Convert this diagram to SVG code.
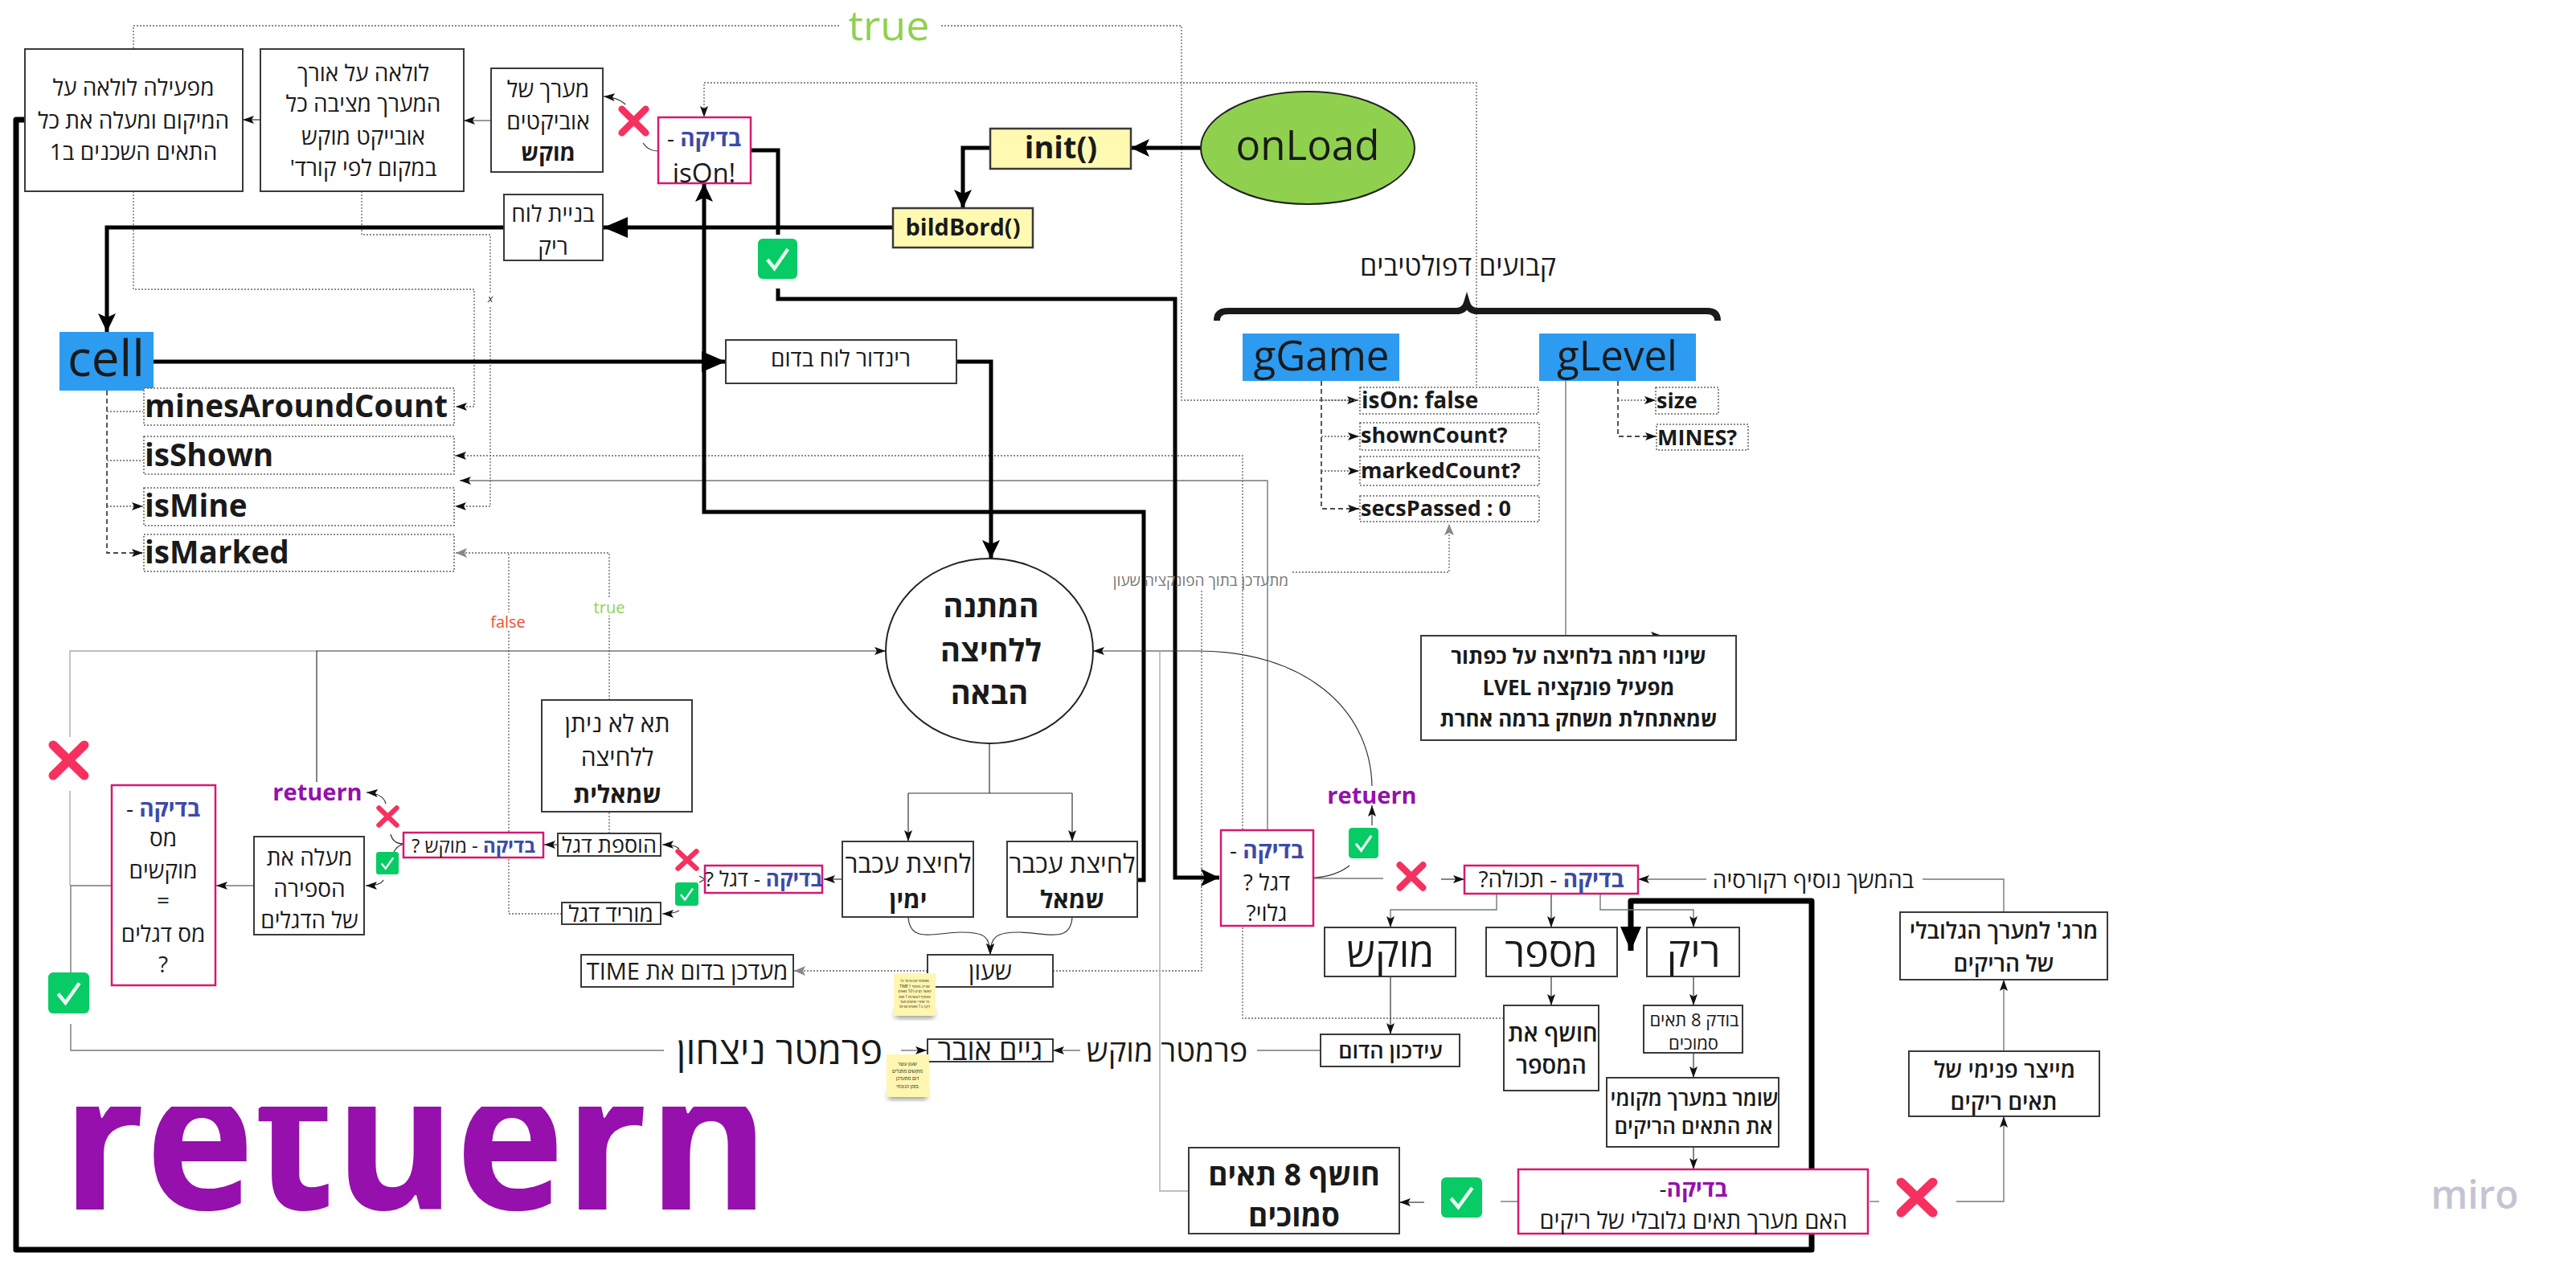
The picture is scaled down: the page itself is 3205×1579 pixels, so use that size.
<svg xmlns="http://www.w3.org/2000/svg" xmlns:xlink="http://www.w3.org/1999/xlink" width="3205" height="1579" viewBox="0 0 3205 1579">
<style>
text{font-family:"Open Sans","Noto Sans","DejaVu Sans",sans-serif;fill:#1a1a1a;text-anchor:middle;dominant-baseline:central}
.he{direction:rtl}
.b{font-weight:700}
.s{font-weight:600}
.l{text-anchor:start}
.blue{fill:#3c4ba6;font-weight:700}
.pur{fill:#9510ac;font-weight:700}
.box{fill:#fff;stroke:#3a3a3a;stroke-width:2}
.chk{fill:#fff;stroke:#d5196f;stroke-width:2.5}
.yel{fill:#fff9b1;stroke:#3a3a3a;stroke-width:2.5}
.dot{fill:#fff;stroke:#666;stroke-width:1.5;stroke-dasharray:2 2}
.bl{fill:#2d9bf0}
.c{fill:none;stroke:#333;stroke-width:1.2}
.g{fill:none;stroke:#777;stroke-width:1.4}
.lg{fill:none;stroke:#aaa;stroke-width:1.4}
.d{fill:none;stroke:#666;stroke-width:1.3;stroke-dasharray:2 2}
.dk{fill:none;stroke:#111;stroke-width:1.4;stroke-dasharray:6 4}
.t4{fill:none;stroke:#000;stroke-width:5}
.t7{fill:none;stroke:#000;stroke-width:7;stroke-linejoin:round}
.sticky{fill:#fff6b0}
</style>
<defs>
<marker id="a" markerUnits="userSpaceOnUse" markerWidth="15" markerHeight="12" refX="14" refY="6" orient="auto"><path d="M0,1 L14,6 L0,11 L3,6Z" fill="#111"/></marker>
<marker id="ag" markerUnits="userSpaceOnUse" markerWidth="15" markerHeight="14" refX="14" refY="7" orient="auto"><path d="M0,1 L14,7 L0,13 L3,7Z" fill="#888"/></marker>
<marker id="A" markerUnits="userSpaceOnUse" markerWidth="24" markerHeight="24" refX="23" refY="12" orient="auto"><path d="M0,1 L23,12 L0,23 L5,12Z" fill="#000"/></marker>
<marker id="AA" markerUnits="userSpaceOnUse" markerWidth="31" markerHeight="28" refX="30" refY="14" orient="auto"><path d="M0,1 L30,14 L0,27 Z" fill="#000"/></marker>
<symbol id="ok" viewBox="0 0 50 50" preserveAspectRatio="none"><rect width="50" height="50" rx="6" fill="#07cb64"/><path d="M12,26 L21,37 L38,13" fill="none" stroke="#e8fbf0" stroke-width="4.5"/></symbol>
<symbol id="no" viewBox="0 0 50 50" preserveAspectRatio="none"><path d="M6,6 L44,44 M44,6 L6,44" fill="none" stroke="#f6305f" stroke-width="11" stroke-linecap="round"/></symbol>
<filter id="sh" x="-20%" y="-20%" width="140%" height="140%"><feGaussianBlur stdDeviation="3"/></filter>
<clipPath id="clipret"><rect x="60" y="1377" width="920" height="160"/></clipPath>
</defs>

<g id="connectors">
<path class="d" d="M1044,32 H166 V61"/>
<path class="d" d="M1171,32 H1470 V498 H1690" marker-end="url(#a)"/>
<path class="d" d="M1837,480 V103 H876 V146" marker-end="url(#a)"/>
<path class="d" d="M450,238 V292 H610 V630 H566" marker-end="url(#a)"/>
<path class="d" d="M166,238 V360 H590 V506 H567" marker-end="url(#a)"/>
<path class="d" d="M1871,1267 H1546 V567 H566" marker-end="url(#a)"/>
<path class="g" d="M1577,1033 V598 H572" marker-end="url(#a)"/>
<path class="d" d="M758,871 V688 H567" stroke-width="2" marker-end="url(#ag)"/>
<path class="d" d="M758,1037 V1010"/>
<path class="d" d="M699,1137 H633 V688"/>
<path class="d" d="M1310,1208 H1495 V735"/>
<path class="d" d="M1154,1208 H988" marker-end="url(#ag)"/>
<path class="d" d="M1608,712 H1803 V652" marker-end="url(#ag)"/>
<path class="dk" d="M133,486 V688 H178" marker-end="url(#a)"/>
<path class="d" d="M133,512 H178"/>
<path class="d" d="M133,573 H178"/>
<path class="d" d="M133,630 H178" marker-end="url(#a)"/>
<path class="dk" d="M1644,474 V633 H1691" marker-end="url(#a)"/>
<path class="d" d="M1644,498 H1690"/>
<path class="d" d="M1644,543 H1691" marker-end="url(#a)"/>
<path class="d" d="M1644,586 H1691" marker-end="url(#a)"/>
<path class="dk" d="M2013,474 V543 H2061" marker-end="url(#a)"/>
<path class="d" d="M2013,498 H2060" marker-end="url(#a)"/>
<path class="g" d="M1948,474 V791 H2068" marker-end="url(#a)"/>
<path class="c" d="M611,150 H577" marker-end="url(#a)"/>
<path class="c" d="M324,149 H302" marker-end="url(#a)"/>
<path class="c" d="M778,130 C772,124 764,121 751,120" marker-end="url(#a)"/>
<path class="c" d="M800,178 C804,184 810,188 819,188"/>
<path class="t4" d="M934,187 H968 V292"/>
<path class="t4" d="M968,359 V372 H1462 V1092 H1517" marker-end="url(#A)"/>
<path class="t4" d="M1494,184 H1407" marker-end="url(#A)"/>
<path class="t4" d="M1232,184 H1198 V259" marker-end="url(#A)"/>
<path class="t4" d="M1111,283 H751" marker-end="url(#AA)"/>
<path class="t4" d="M627,283 H133 V413" marker-end="url(#A)"/>
<path class="t4" d="M191,450 H903" marker-end="url(#AA)"/>
<path class="t4" d="M1190,450 H1233 V695" marker-end="url(#A)"/>
<path class="t4" d="M1416,1095 H1423 V637 H876 V228" marker-end="url(#A)"/>
<path class="t7" d="M31,149 H20 V1555 H2254 V1121 H2029 V1183" marker-end="url(#AA)"/>
<path class="lg" d="M87,917 V810 H394"/>
<path class="lg" d="M87,984 V1102"/>
<path class="g" d="M139,1102 H88 V1210"/>
<path class="c" d="M394,973 V810 H1102" marker-end="url(#a)"/>
<path class="c" d="M1707,978 C1705,880 1620,810 1491,810 H1360" marker-end="url(#a)"/>
<path class="lg" d="M1479,1482 H1443 V810"/>
<path class="c" d="M1231,925 V987"/>
<path class="c" d="M1130,987 H1334"/>
<path class="c" d="M1130,987 V1047" marker-end="url(#a)"/>
<path class="c" d="M1334,987 V1047" marker-end="url(#a)"/>
<path class="c" d="M1130,1141 C1132,1175 1165,1160 1195,1160 C1225,1160 1232,1165 1232,1188" marker-end="url(#a)"/>
<path class="c" d="M1334,1141 C1332,1175 1300,1160 1268,1160 C1240,1160 1232,1165 1232,1188" marker-end="url(#a)"/>
<path class="g" d="M88,1274 V1307 H826"/>
<path class="g" d="M1121,1307 H1153" marker-end="url(#a)"/>
<path class="g" d="M1344,1307 H1310" marker-end="url(#a)"/>
<path class="g" d="M1643,1307 H1564"/>
<path class="g" d="M316,1102 H269" marker-end="url(#a)"/>
<path class="c" d="M480,1000 C478,992 470,987 456,986" marker-end="url(#a)"/>
<path class="c" d="M486,1038 C488,1046 494,1050 502,1050 C496,1052 492,1056 490,1060"/>
<path class="c" d="M477,1095 C475,1099 468,1102 455,1102" marker-end="url(#a)"/>
<path class="c" d="M694,1051 H677" marker-end="url(#a)"/>
<path class="c" d="M1047,1094 H1025" marker-end="url(#a)"/>
<path class="c" d="M870,1090 L877,1094 L870,1098"/>
<path class="c" d="M845,1056 C840,1052 835,1051 824,1051" marker-end="url(#a)"/>
<path class="c" d="M845,1133 C840,1136 835,1137 824,1137" marker-end="url(#a)"/>
<path class="c" d="M1634,1092 C1650,1092 1668,1086 1679,1077"/>
<path class="g" d="M1634,1093 H1721"/>
<path class="c" d="M1707,1027 V1002" marker-end="url(#a)"/>
<path class="c" d="M1793,1094 H1822" marker-end="url(#a)"/>
<path class="g" d="M2493,1135 V1094 H2392"/>
<path class="c" d="M2123,1094 H2038" marker-end="url(#a)"/>
<path class="g" d="M1862,1112 V1132 H1730 V1154" marker-end="url(#a)"/>
<path class="c" d="M1930,1112 V1154" marker-end="url(#a)"/>
<path class="g" d="M1991,1112 V1132 H2107 V1154" marker-end="url(#a)"/>
<path class="c" d="M1730,1215 V1287" marker-end="url(#a)"/>
<path class="c" d="M1930,1215 V1251" marker-end="url(#a)"/>
<path class="c" d="M2107,1215 V1251" marker-end="url(#a)"/>
<path class="c" d="M2107,1310 V1341" marker-end="url(#a)"/>
<path class="c" d="M2107,1427 V1455" marker-end="url(#a)"/>
<path class="g" d="M1889,1495 H1867"/>
<path class="c" d="M1772,1496 H1741" marker-end="url(#a)"/>
<path class="g" d="M2326,1495 H2338"/>
<path class="g" d="M2434,1495 H2493 V1389" marker-end="url(#a)"/>
<path class="g" d="M2493,1308 V1219" marker-end="url(#a)"/>
<path d="M1514,399 Q1514,387 1528,387 H1812 Q1822,387 1825,377 Q1828,387 1838,387 H2124 Q2137,387 2137,399" fill="none" stroke="#1a1a1a" stroke-width="8"/>
</g>

<g id="n-true"><text x="1106" y="29" font-size="52" style="fill:#8fd14f">true</text></g>
<g id="n-loop-cells"><rect class="box" x="31" y="61" width="271" height="177"/>
<text class="he" x="166" y="108" font-size="28">מפעילה לולאה על</text><text class="he" x="166" y="149" font-size="28">המיקום ומעלה את כל</text><text class="he" x="166" y="188" font-size="28">התאים השכנים ב1</text></g>
<g id="n-loop-array"><rect class="box" x="324" y="61" width="253" height="177"/>
<text class="he" x="452" y="90" font-size="28">לולאה על אורך</text><text class="he" x="452" y="128" font-size="28">המערך מציבה כל</text><text class="he" x="452" y="169" font-size="28">אובייקט מוקש</text><text class="he" x="452" y="208" font-size="28">במקום לפי קורד'</text></g>
<g id="n-mines-array"><rect class="box" x="611" y="85" width="139" height="129"/>
<text class="he" x="682" y="110" font-size="28">מערך של</text><text class="he" x="682" y="150" font-size="28">אוביקטים</text><text class="he b" x="682" y="189" font-size="28">מוקש</text></g>
<g id="n-x1"><use href="#no" x="769" y="131" width="39" height="39"/></g>
<g id="n-ison"><rect class="chk" x="819" y="146" width="115" height="82"/>
<text class="he" x="876" y="171" font-size="28"><tspan class="blue">בדיקה</tspan> -</text><text x="876" y="214" font-size="33">isOn!</text></g>
<g id="n-ok1"><use href="#ok" x="943" y="297" width="49" height="50"/></g>
<g id="n-init"><rect class="yel" x="1232" y="160" width="175" height="50"/><text class="b" x="1320" y="182" font-size="38">init()</text></g>
<g id="n-onload"><ellipse cx="1627" cy="184" rx="133" ry="70" fill="#8fd14f" stroke="#222" stroke-width="2"/><text x="1627" y="179" font-size="51">onLoad</text></g>
<g id="n-bild"><rect class="yel" x="1111" y="259" width="174" height="49"/><text class="b" x="1198" y="281" font-size="29">bildBord()</text></g>
<g id="n-empty-board"><rect class="box" x="627" y="242" width="123" height="82"/><text class="he" x="688" y="265" font-size="28">בניית לוח</text><text class="he" x="688" y="306" font-size="28">ריק</text></g>
<g id="n-cell"><rect class="bl" x="74" y="413" width="117" height="73"/><text x="132" y="444" font-size="62">cell</text></g>
<g id="n-render"><rect class="box" x="903" y="423" width="287" height="54"/><text class="he" x="1046" y="445" font-size="28">רינדור לוח בדום</text></g>
<g id="n-mac"><rect class="dot" x="179" y="483" width="386" height="46"/><text class="b l" x="180" y="504" font-size="38.7">minesAroundCount</text></g>
<g id="n-shown"><rect class="dot" x="179" y="543" width="386" height="47"/><text class="b l" x="180" y="565" font-size="38.7">isShown</text></g>
<g id="n-mine"><rect class="dot" x="179" y="607" width="386" height="47"/><text class="b l" x="180" y="628" font-size="38.7">isMine</text></g>
<g id="n-marked"><rect class="dot" x="179" y="665" width="386" height="46"/><text class="b l" x="180" y="686" font-size="38.7">isMarked</text></g>
<g id="n-wait"><ellipse cx="1231" cy="810" rx="129" ry="115" fill="#fff" stroke="#222" stroke-width="2"/>
<text class="he b" x="1233" y="753" font-size="38">המתנה</text><text class="he b" x="1233" y="808" font-size="38">ללחיצה</text><text class="he b" x="1231" y="861" font-size="38">הבאה</text></g>
<g id="n-brace-title"><text class="he" x="1814" y="330" font-size="34">קבועים דפולטיבים</text></g>
<g id="n-ggame"><rect class="bl" x="1546" y="415" width="195" height="59"/><text x="1644" y="441" font-size="51">gGame</text></g>
<g id="n-glevel"><rect class="bl" x="1915" y="415" width="195" height="59"/><text x="2012" y="441" font-size="51">gLevel</text></g>
<g id="n-ison-f"><rect class="dot" x="1692" y="482" width="222" height="33"/><text class="b l" x="1694" y="497" font-size="28">isOn: false</text></g>
<g id="n-sc"><rect class="dot" x="1692" y="526" width="223" height="34"/><text class="b l" x="1693" y="540" font-size="27">shownCount?</text></g>
<g id="n-mc"><rect class="dot" x="1692" y="568" width="223" height="36"/><text class="b l" x="1693" y="584" font-size="27">markedCount?</text></g>
<g id="n-sp"><rect class="dot" x="1692" y="617" width="223" height="32"/><text class="b l" x="1693" y="631" font-size="27">secsPassed : 0</text></g>
<g id="n-size"><rect class="dot" x="2060" y="482" width="78" height="33"/><text class="b l" x="2061" y="497" font-size="27">size</text></g>
<g id="n-mines"><rect class="dot" x="2061" y="528" width="114" height="32"/><text class="b l" x="2062" y="543" font-size="27">MINES?</text></g>
<g id="n-level"><rect class="box" x="1768" y="791" width="392" height="130"/>
<text class="he b" x="1964" y="816" font-size="26">שינוי רמה בלחיצה על כפתור</text><text class="he b" x="1964" y="855" font-size="26">מפעיל פונקציה LVEL</text><text class="he b" x="1964" y="894" font-size="26">שמאתחלת משחק ברמה אחרת</text></g>
<g id="n-time-note"><text class="he" x="1494" y="722" font-size="19" style="fill:#777">מתעדכן בתוך הפונקציה שעון</text></g>
<g id="n-true2"><rect x="736" y="744" width="44" height="22" fill="#fff"/><text x="758" y="755" font-size="20" style="fill:#8fd14f">true</text></g>
<g id="n-false"><rect x="608" y="762" width="48" height="22" fill="#fff"/><text x="632" y="773" font-size="20" style="fill:#f24d30">false</text></g>
<g id="n-x-mark"><rect x="604" y="364" width="12" height="16" fill="#fff"/><text x="610" y="371" font-size="13" font-style="italic">x</text></g>
<g id="n-x2"><use href="#no" x="60" y="921" width="51" height="50"/></g>
<g id="n-count-check"><rect class="chk" x="139" y="977" width="129" height="249"/>
<text class="he" x="203" y="1005" font-size="28"><tspan class="blue">בדיקה</tspan> -</text><text class="he" x="203" y="1042" font-size="28">מס</text><text class="he" x="203" y="1082" font-size="28">מוקשים</text><text x="203" y="1119" font-size="28">=</text><text class="he" x="203" y="1161" font-size="28">מס דגלים</text><text x="203" y="1199" font-size="28">?</text></g>
<g id="n-ok2"><use href="#ok" x="60" y="1210" width="51" height="51"/></g>
<g id="n-ret1"><text class="pur" x="395" y="984" font-size="29">retuern</text></g>
<g id="n-x3"><use href="#no" x="468" y="1002" width="29" height="28"/></g>
<g id="n-ok3"><use href="#ok" x="468" y="1060" width="28" height="28"/></g>
<g id="n-raise"><rect class="box" x="316" y="1041" width="137" height="122"/>
<text class="he" x="385" y="1066" font-size="28">מעלה את</text><text class="he" x="385" y="1105" font-size="28">הספירה</text><text class="he" x="385" y="1144" font-size="28">של הדגלים</text></g>
<g id="n-mine-check"><rect class="chk" x="502" y="1036" width="174" height="31"/><text class="he" x="589" y="1051" font-size="24"><tspan class="blue">בדיקה</tspan> - מוקש ?</text></g>
<g id="n-addflag"><rect class="box" x="694" y="1037" width="128" height="28"/><text class="he" x="758" y="1050" font-size="27">הוספת דגל</text></g>
<g id="n-remflag"><rect class="box" x="699" y="1123" width="123" height="27"/><text class="he" x="760" y="1136" font-size="28">מוריד דגל</text></g>
<g id="n-cant"><rect class="box" x="674" y="871" width="187" height="139"/>
<text class="he" x="768" y="899" font-size="30">תא לא ניתן</text><text class="he" x="768" y="941" font-size="30">ללחיצה</text><text class="he b" x="768" y="987" font-size="30">שמאלית</text></g>
<g id="n-flag-check"><rect class="chk" x="877" y="1077" width="146" height="34"/><text class="he" x="950" y="1093" font-size="26"><tspan class="blue">בדיקה</tspan> - דגל ?</text></g>
<g id="n-x4"><use href="#no" x="840" y="1056" width="30" height="28"/></g>
<g id="n-ok4"><use href="#ok" x="840" y="1098" width="29" height="29"/></g>
<g id="n-right"><rect class="box" x="1048" y="1047" width="163" height="94"/><text class="he" x="1130" y="1073" font-size="32">לחיצת עכבר</text><text class="he b" x="1130" y="1118" font-size="30">ימין</text></g>
<g id="n-left"><rect class="box" x="1253" y="1047" width="162" height="94"/><text class="he" x="1334" y="1073" font-size="32">לחיצת עכבר</text><text class="he b" x="1334" y="1118" font-size="30">שמאל</text></g>
<g id="n-clock"><rect class="box" x="1154" y="1188" width="156" height="40"/><text class="he" x="1232" y="1207" font-size="30">שעון</text></g>
<g id="n-time"><rect class="box" x="723" y="1188" width="264" height="40"/><text class="he" x="855" y="1207" font-size="29">מעדכן בדום את TIME</text></g>
<g id="n-sticky1"><rect x="1114" y="1256" width="48" height="11" fill="#555" opacity=".6" filter="url(#sh)"/><rect class="sticky" x="1112" y="1211" width="52" height="53"/>
<g font-size="4.6"><text class="he" x="1138" y="1220">מאתחל אינטרוול כל</text><text class="he" x="1138" y="1227">שנייה מוסיף TIME 1</text><text class="he" x="1138" y="1233">כאשר מגיע ל10 מאפס</text><text class="he" x="1138" y="1240">ומוסיף לעשרות 1 ואת</text><text class="he" x="1138" y="1246">כל אחרי שישים מעל</text><text class="he" x="1138" y="1252">דקה ב1 מאפס שניות</text></g></g>
<g id="n-ret-big" clip-path="url(#clipret)"><text class="pur" x="517" y="1505" font-size="252" style="dominant-baseline:auto" textLength="880" lengthAdjust="spacingAndGlyphs">retuern</text></g>
<g id="n-win"><text class="he" x="970" y="1306" font-size="47">פרמטר ניצחון</text></g>
<g id="n-over"><rect class="box" x="1154" y="1293" width="156" height="28"/><text class="he" x="1232" y="1305" font-size="36">גיים אובר</text></g>
<g id="n-sticky2"><rect x="1105" y="1357" width="48" height="11" fill="#555" opacity=".6" filter="url(#sh)"/><rect class="sticky" x="1103" y="1312" width="53" height="53"/>
<g font-size="6"><text class="he" x="1129" y="1324">שעון עוצר</text><text class="he" x="1129" y="1333">מוקשים מתגלים</text><text class="he" x="1129" y="1342">דום מתעדכן</text><text class="he" x="1129" y="1352">בזמן הנוכחי</text></g></g>
<g id="n-mine-param"><text class="he" x="1452" y="1306" font-size="38">פרמטר מוקש</text></g>
<g id="n-update"><rect class="box" x="1643" y="1287" width="173" height="40"/><text class="he s" x="1730" y="1306" font-size="27">עידכון הדום</text></g>
<g id="n-8"><rect class="box" x="1479" y="1428" width="262" height="107"/><text class="he b" x="1610" y="1460" font-size="37">חושף 8 תאים</text><text class="he b" x="1610" y="1511" font-size="37">סמוכים</text></g>
<g id="n-ok5"><use href="#ok" x="1793" y="1465" width="51" height="50"/></g>
<g id="n-flag-shown"><rect class="chk" x="1519" y="1033" width="115" height="119"/>
<text class="he" x="1576" y="1057" font-size="28"><tspan class="blue">בדיקה</tspan> -</text><text class="he" x="1576" y="1097" font-size="28">דגל ?</text><text class="he" x="1576" y="1135" font-size="28">גלוי?</text></g>
<g id="n-ok6"><use href="#ok" x="1678" y="1030" width="37" height="38"/></g>
<g id="n-ret2"><text class="pur" x="1707" y="988" font-size="29">retuern</text></g>
<g id="n-x5"><use href="#no" x="1737" y="1072" width="38" height="37"/></g>
<g id="n-content"><rect class="chk" x="1822" y="1077" width="216" height="35"/><text class="he" x="1930" y="1093" font-size="28"><tspan class="blue">בדיקה</tspan> - תכולה?</text></g>
<g id="n-recur"><text class="he" x="2256" y="1094" font-size="28">בהמשך נוסיף רקורסיה</text></g>
<g id="n-mine-box"><rect class="box" x="1648" y="1154" width="163" height="61"/><text class="he" x="1730" y="1184" font-size="50">מוקש</text></g>
<g id="n-num-box"><rect class="box" x="1849" y="1154" width="163" height="61"/><text class="he" x="1930" y="1184" font-size="50">מספר</text></g>
<g id="n-empty-box"><rect class="box" x="2049" y="1154" width="115" height="61"/><text class="he" x="2107" y="1184" font-size="50">ריק</text></g>
<g id="n-reveal-num"><rect class="box" x="1871" y="1251" width="118" height="106"/><text class="he s" x="1932" y="1284" font-size="29">חושף את</text><text class="he s" x="1930" y="1324" font-size="29">המספר</text></g>
<g id="n-check8"><rect class="box" x="2045" y="1251" width="123" height="59"/><text class="he" x="2108" y="1268" font-size="22">בודק 8 תאים</text><text class="he" x="2107" y="1297" font-size="22">סמוכים</text></g>
<g id="n-store"><rect class="box" x="1999" y="1341" width="214" height="86"/><text class="he s" x="2108" y="1366" font-size="26">שומר במערך מקומי</text><text class="he s" x="2107" y="1401" font-size="26">את התאים הריקים</text></g>
<g id="n-global-check"><rect class="chk" x="1889" y="1455" width="435" height="80"/><text class="he" x="2107" y="1478" font-size="28"><tspan class="pur">בדיקה</tspan>-</text><text class="he" x="2107" y="1517" font-size="29">האם מערך תאים גלובלי של ריקים</text></g>
<g id="n-x6"><use href="#no" x="2359" y="1465" width="52" height="50"/></g>
<g id="n-merge"><rect class="box" x="2364" y="1135" width="258" height="84"/><text class="he s" x="2493" y="1157" font-size="28">מרג' למערך הגלובלי</text><text class="he s" x="2493" y="1198" font-size="28">של הריקים</text></g>
<g id="n-maker"><rect class="box" x="2375" y="1308" width="237" height="81"/><text class="he s" x="2494" y="1330" font-size="28">מייצר פנימי של</text><text class="he s" x="2493" y="1370" font-size="28">תאים ריקים</text></g>
<g id="n-miro"><text class="s" x="3079" y="1485" font-size="48" style="fill:#c4c4d2">miro</text></g>
</svg>
